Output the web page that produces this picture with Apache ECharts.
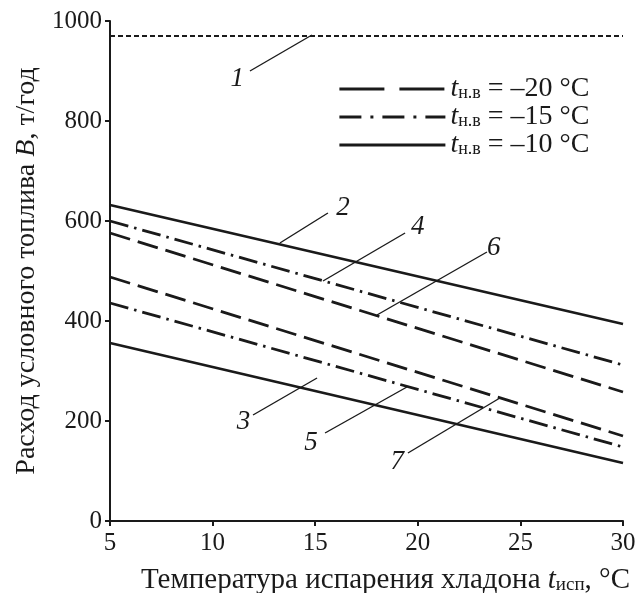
<!DOCTYPE html>
<html>
<head>
<meta charset="utf-8">
<script src="https://cdn.jsdelivr.net/npm/echarts@6/dist/echarts.min.js"></script>
<style>
  html, body { margin: 0; padding: 0; background: #fff; }
  #chart { width: 635px; height: 593px; }
</style>
</head>
<body>
<div id="chart"></div>
<script>
// Evaporation temperature of the refrigerant, °C (line end points)
const tempX = [5, 30];

// Conventional fuel consumption B, t/year
const fuel1 = [970, 970];   // curve 1
const fuel2 = [632, 394];   // curve 2, t = -10 °C
const fuel3 = [356, 116];   // curve 3, t = -10 °C
const fuel4 = [600, 312];   // curve 4, t = -15 °C
const fuel5 = [436, 148];   // curve 5, t = -15 °C
const fuel6 = [576, 258];   // curve 6, t = -20 °C
const fuel7 = [488, 170];   // curve 7, t = -20 °C

const xTicks = [5, 10, 15, 20, 25, 30];
const yTicks = [0, 200, 400, 600, 800, 1000];

const legendNames = ['–20 °C', '–15 °C', '–10 °C'];

// Curve numbers with their leader lines (data units)
const curveNums  = ['1', '2', '4', '6', '3', '5', '7'];
const numAt      = [[11.2, 884], [16.35, 626], [20.0, 588], [23.7, 546], [11.5, 198], [14.8, 156], [19.0, 118]];
const leaderFrom = [[11.82, 900], [15.62, 616], [19.38, 576], [23.37, 538], [11.97, 212], [15.48, 176], [19.52, 136]];
const leaderTo   = [[14.84, 972], [13.28, 556], [15.38, 480], [18.01, 412], [15.09, 286], [19.47, 268], [24.0, 246]];

const SERIF = '"Liberation Serif", "DejaVu Serif", serif';
const INK = '#1a1a1a';

const DASH = [21, 8];
const DASHDOT = [19, 6, 2.5, 6];

function pairs(ys) { return tempX.map((x, i) => [x, ys[i]]); }

function curve(name, ys, dash) {
  return {
    name: name,
    type: 'line',
    data: pairs(ys),
    symbol: 'none',
    silent: true,
    lineStyle: { color: INK, width: 2.8, type: dash },
    itemStyle: { color: INK }
  };
}

const chart = echarts.init(document.getElementById('chart'), null, { renderer: 'canvas' });

const legendRich = {
  t: { fontFamily: SERIF, fontStyle: 'italic', fontSize: 28, lineHeight: 27, color: INK },
  s: { fontFamily: SERIF, fontSize: 18, lineHeight: 18, verticalAlign: 'bottom', color: INK },
  n: { fontFamily: SERIF, fontSize: 28, lineHeight: 27, color: INK }
};

const hiddenDot = { opacity: 0, borderWidth: 0 };

chart.setOption({
  animation: false,
  backgroundColor: '#fff',
  grid: { left: 110, right: 12, top: 21, bottom: 72, containLabel: false, outerBoundsMode: 'none' },
  legend: {
    orient: 'vertical',
    left: 333,
    top: 70,
    itemWidth: 106,
    itemHeight: 14,
    itemGap: 0,
    selectedMode: false,
    data: [
      { name: legendNames[0], itemStyle: hiddenDot, lineStyle: { type: [45, 15], width: 2.8, color: INK } },
      { name: legendNames[1], itemStyle: hiddenDot, lineStyle: { type: [22, 9, 3, 9], width: 2.8, color: INK } },
      { name: legendNames[2], itemStyle: hiddenDot, lineStyle: { type: 'solid', width: 2.8, color: INK } }
    ],
    formatter: function (name) { return '{t|t}{s|н.в}{n| = ' + name + '}'; },
    textStyle: { rich: legendRich, padding: [0, 0, 0, 0] }
  },
  xAxis: {
    type: 'value',
    min: 5, max: 30, interval: 5,
    name: 'Температура испарения хладона {i|t}{s|исп}, °C',
    nameLocation: 'middle',
    nameGap: 45,
    nameTextStyle: {
      fontFamily: SERIF, fontSize: 29, lineHeight: 29, color: INK,
      padding: [0, 0, 0, 38],
      rich: {
        i: { fontFamily: SERIF, fontStyle: 'italic', fontSize: 29, lineHeight: 29, color: INK },
        s: { fontFamily: SERIF, fontSize: 19, lineHeight: 19, verticalAlign: 'bottom', color: INK }
      }
    },
    axisLine: { lineStyle: { color: INK, width: 2 } },
    axisTick: { show: true, length: 5, lineStyle: { color: INK, width: 2 } },
    axisLabel: {
      fontFamily: SERIF, fontSize: 25, color: INK, margin: 10,
      formatter: v => xTicks.includes(v) ? String(v) : ''
    },
    splitLine: { show: false }
  },
  yAxis: {
    type: 'value',
    min: 0, max: 1000, interval: 200,
    name: 'Расход условного топлива {i|B}, т/год',
    nameLocation: 'middle',
    nameRotate: 90,
    nameGap: 68,
    nameTextStyle: {
      fontFamily: SERIF, fontSize: 28, color: INK,
      rich: {
        i: { fontFamily: SERIF, fontStyle: 'italic', fontSize: 28, color: INK }
      }
    },
    axisLine: { show: true, lineStyle: { color: INK, width: 2 } },
    axisTick: { show: true, length: 5, lineStyle: { color: INK, width: 2 } },
    axisLabel: {
      fontFamily: SERIF, fontSize: 25, color: INK, margin: 8,
      formatter: v => yTicks.includes(v) ? String(v) : ''
    },
    splitLine: { show: false }
  },
  series: [
    {
      name: 'curve1',
      type: 'line',
      data: pairs(fuel1),
      symbol: 'none',
      silent: true,
      lineStyle: { color: INK, width: 2, type: [5, 3] }
    },
    curve(legendNames[2], fuel2, 'solid'),
    curve(legendNames[2], fuel3, 'solid'),
    curve(legendNames[1], fuel4, DASHDOT),
    curve(legendNames[1], fuel5, DASHDOT),
    curve(legendNames[0], fuel6, DASH),
    curve(legendNames[0], fuel7, DASH)
  ]
});

// Curve numbers and leader lines, placed through the grid's coordinate system
function px(p) { return chart.convertToPixel({ gridIndex: 0 }, p); }
const notes = [];
curveNums.forEach((n, i) => {
  const a = px(leaderFrom[i]);
  const b = px(leaderTo[i]);
  const c = px(numAt[i]);
  notes.push({
    type: 'line',
    silent: true,
    shape: { x1: a[0], y1: a[1], x2: b[0], y2: b[1] },
    style: { stroke: INK, lineWidth: 1.4 }
  });
  notes.push({
    type: 'text',
    silent: true,
    x: c[0], y: c[1],
    style: {
      text: n, fill: INK,
      font: 'italic 27px ' + SERIF,
      align: 'center', verticalAlign: 'middle'
    }
  });
});
chart.setOption({ graphic: notes });
</script>
</body>
</html>
